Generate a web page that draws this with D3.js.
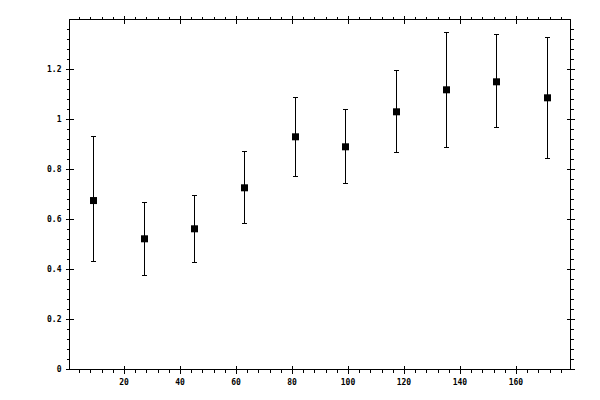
<!DOCTYPE html>
<html>
<head>
<meta charset="utf-8">
<script src="https://cdn.jsdelivr.net/npm/d3@7"></script>
<style>
  body { margin: 0; background: #fff; }
  svg { display: block; }
  text { font-family: "DejaVu Sans Mono", monospace; font-size: 8px; font-weight: bold; fill: #000; }
</style>
</head>
<body>
<svg id="chart" width="600" height="400"></svg>
<script>
const plotLeft = 69.5, plotRight = 570.5, plotTop = 19.5, plotBottom = 369.5;

// data
const binCenters = [9, 27, 45, 63, 81, 99, 117, 135, 153, 171];
const means = [0.675, 0.522, 0.562, 0.726, 0.930, 0.890, 1.030, 1.118, 1.150, 1.086];
const lows = [0.432, 0.376, 0.428, 0.584, 0.772, 0.744, 0.868, 0.888, 0.968, 0.844];
const highs = [0.930, 0.666, 0.696, 0.870, 1.086, 1.040, 1.194, 1.348, 1.340, 1.328];

const xTicks = [20, 40, 60, 80, 100, 120, 140, 160];
const yTicks = [0, 0.2, 0.4, 0.6, 0.8, 1, 1.2];
const xMinor = d3.range(1, 45).map(i => i * 4).filter(v => v % 20 !== 0);
const yMinor = d3.range(1, 35).filter(i => i % 5 !== 0).map(i => i * 0.04);

const svg = d3.select('#chart');

const x = d3.scaleLinear().domain([0.5, 179.5]).range([plotLeft, plotRight]);
const y = d3.scaleLinear().domain([0, 1.4]).range([plotBottom - 0.2, plotTop - 0.2]);

// frame
svg.append('rect')
  .attr('x', plotLeft).attr('y', plotTop)
  .attr('width', plotRight - plotLeft).attr('height', plotBottom - plotTop)
  .attr('fill', 'none').attr('stroke', '#000');

// axes: minor ticks outward, major ticks crossing the frame
const drawAxis = (axisFn, scale, pos, transform) => {
  const g = svg.append('g').attr('transform', transform);
  const major = pos === 'x' ? xTicks : yTicks;
  g.append('g').call(axisFn(scale).tickValues(pos === 'x' ? xMinor : yMinor).tickSize(3).tickFormat(''));
  g.append('g').call(axisFn(scale).tickValues(major).tickSize(4).tickFormat(''));
  g.append('g').call(axisFn(scale).tickValues(major).tickSize(-4).tickFormat(''));
  g.selectAll('.domain').remove();
  g.selectAll('line').attr('stroke', '#000').attr('shape-rendering', 'crispEdges');
  return g;
};

drawAxis(d3.axisBottom, x, 'x', `translate(0,${plotBottom})`);
drawAxis(d3.axisTop, x, 'x', `translate(0,${plotTop})`);
drawAxis(d3.axisLeft, y, 'y', `translate(${plotLeft},0)`);
drawAxis(d3.axisRight, y, 'y', `translate(${plotRight},0)`);

// tick labels
svg.append('g').selectAll('text')
  .data(xTicks)
  .join('text')
  .attr('x', d => x(d))
  .attr('y', plotBottom + 15)
  .attr('text-anchor', 'middle')
  .text(d => d);

svg.append('g').selectAll('text')
  .data(yTicks)
  .join('text')
  .attr('x', plotLeft - 8)
  .attr('y', d => y(d) + 3)
  .attr('text-anchor', 'end')
  .text(d => d);

// error bars
const points = binCenters.map((c, i) => ({ c, m: means[i], lo: lows[i], hi: highs[i] }));
const capW = 2.5;
const bars = svg.append('g').attr('stroke', '#000').attr('shape-rendering', 'crispEdges');
points.forEach(p => {
  const px = Math.round(x(p.c)) + 0.5;
  bars.append('line').attr('x1', px).attr('x2', px).attr('y1', y(p.lo)).attr('y2', y(p.hi));
  bars.append('line').attr('x1', px - capW).attr('x2', px + capW).attr('y1', y(p.hi)).attr('y2', y(p.hi));
  bars.append('line').attr('x1', px - capW).attr('x2', px + capW).attr('y1', y(p.lo)).attr('y2', y(p.lo));
});

// markers
const size = 7;
svg.append('g').selectAll('rect')
  .data(points)
  .join('rect')
  .attr('x', p => Math.round(x(p.c)) + 0.5 - size / 2)
  .attr('y', p => y(p.m) - size / 2)
  .attr('width', size)
  .attr('height', size)
  .attr('fill', '#000');
</script>
</body>
</html>
